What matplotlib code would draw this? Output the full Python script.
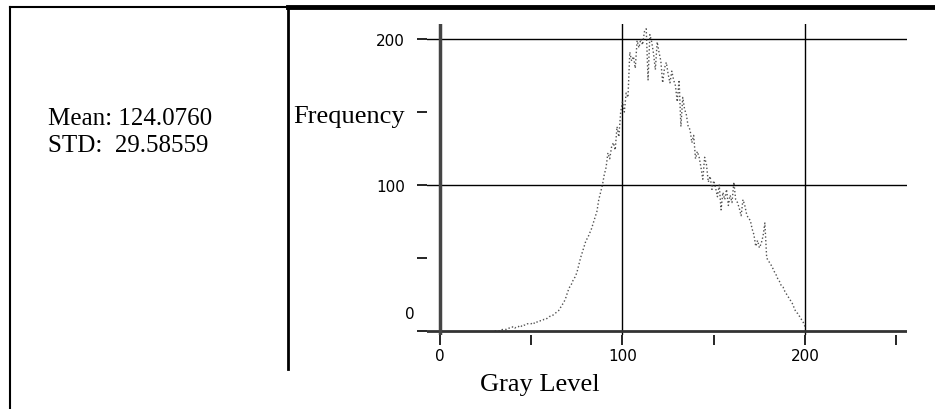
import matplotlib.pyplot as plt
import numpy as np
from matplotlib.lines import Line2D
from matplotlib.transforms import ScaledTranslation

# histogram values (gray levels 30..200, zero elsewhere)
first_level = 30
freq_values = [
    0, 0, 0, 0, 1, 1, 1, 2, 2, 2,
    3, 2, 3, 3, 4, 3, 4, 4, 5, 5,
    5, 6, 5, 6, 7, 7, 7, 8, 8, 9,
    10, 10, 11, 12, 13, 14, 16, 18, 20, 23,
    27, 30, 32, 35, 37, 40, 45, 50, 54, 58,
    62, 64, 67, 70, 74, 78, 82, 90, 95, 100,
    107, 112, 122, 118, 126, 129, 124, 140, 133, 150,
    157, 150, 163, 160, 191, 185, 188, 180, 199, 194,
    200, 196, 205, 207, 172, 203, 198, 190, 179, 198,
    191, 185, 170, 180, 184, 176, 170, 178, 172, 168,
    157, 172, 140, 160, 152, 148, 140, 138, 129, 134,
    118, 123, 119, 112, 104, 119, 114, 102, 106, 97,
    103, 98, 92, 100, 83, 95, 90, 97, 86, 93,
    88, 102, 90, 88, 84, 79, 90, 86, 80, 77,
    76, 70, 66, 58, 62, 57, 60, 65, 74, 50,
    48, 46, 44, 41, 39, 36, 34, 31, 30, 27,
    25, 23, 21, 19, 16, 13, 12, 10, 8, 6,
    3,
]
gray_levels = np.arange(first_level, first_level + len(freq_values))

mean_text = "Mean: 124.0760"
std_text = "STD:  29.58559"
x_ticks = [0, 50, 100, 150, 200, 250]
x_tick_labels = ["0", "", "100", "", "200", ""]
y_ticks = [0, 50, 100, 150, 200]
y_tick_labels = ["0", "", "100", "", "200"]
grid_x = [100, 200]
grid_y = [100, 200]

serif = ["Liberation Serif", "DejaVu Serif"]

fig = plt.figure(figsize=(9.35, 4.10), dpi=100)
ax = fig.add_axes([0.4569, 0.1795, 0.5134, 0.7585])
ax.set_xlim(-7, 256)
ax.set_ylim(-3, 210)

for s in ax.spines.values():
    s.set_visible(False)

# grid + axes lines
for g in grid_y:
    ax.axhline(g, color="black", lw=1.0, zorder=1)
for g in grid_x:
    ax.axvline(g, color="black", lw=1.0, zorder=1)
ax.axhline(0, color="#333333", lw=2.0, zorder=2)
ax.axvline(0, color="#444444", lw=2.5, zorder=2)

ax.plot(gray_levels, freq_values, color="#333333", lw=1.0, ls=":", alpha=0.85, zorder=3)

ax.set_xticks(x_ticks, labels=x_tick_labels)
ax.set_yticks(y_ticks, labels=y_tick_labels)
ax.tick_params(axis="x", direction="out", length=7, width=1.2, pad=2, labelsize=11)
ax.tick_params(axis="y", direction="out", length=7, width=1.2, pad=9, labelsize=11)
for lab in ax.get_xticklabels() + ax.get_yticklabels():
    lab.set_family("DejaVu Sans")
# the "0" on the scan sits above its tick
zero_lab = ax.get_yticklabels()[0]
zero_lab.set_transform(zero_lab.get_transform() + ScaledTranslation(0.1, 0.19, fig.dpi_scale_trans))

# frame of the panel
def fline(xs, ys, lw):
    fig.add_artist(Line2D([x / 935 for x in xs], [1 - y / 410 for y in ys],
                          color="black", lw=lw, transform=fig.transFigure))

fline([10, 10], [8, 410], 1.5)
fline([10, 288], [8, 8], 1.5)
fline([288, 935], [8, 8], 3.5)
fline([288, 288], [8, 370], 2.0)

fig.text(48 / 935, 1 - 125 / 410, mean_text, family=serif, fontsize=18, va="baseline")
fig.text(48 / 935, 1 - 152 / 410, std_text, family=serif, fontsize=18, va="baseline")
fig.text(405 / 935, 1 - 123 / 410, "Frequency", family=serif, fontsize=19, va="baseline", ha="right")
fig.text(540 / 935, 1 - 391 / 410, "Gray Level", family=serif, fontsize=19, va="baseline", ha="center")

plt.savefig("out.png", dpi=100)
